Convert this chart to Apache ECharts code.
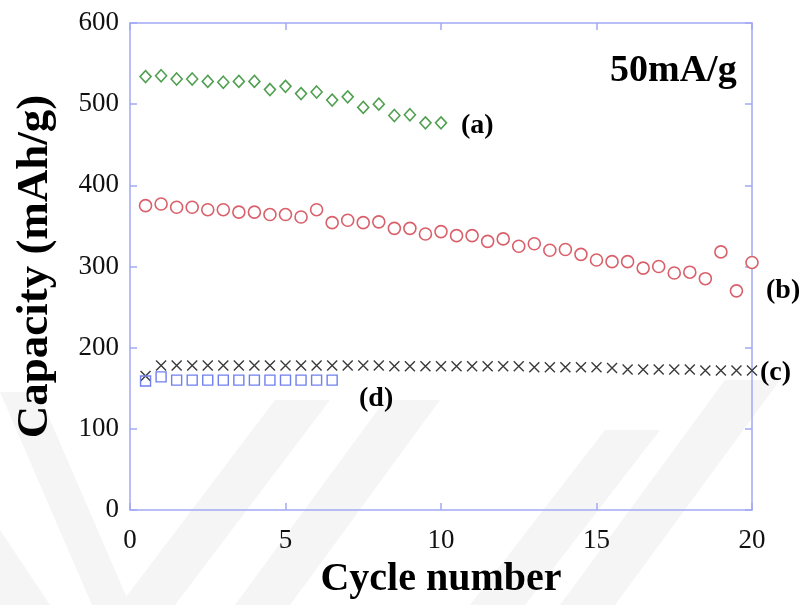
<!DOCTYPE html>
<html>
<head>
<meta charset="utf-8">
<script src="https://cdn.jsdelivr.net/npm/echarts@6/dist/echarts.min.js"></script>
<style>html,body{margin:0;padding:0;background:#fff;}#c{width:804px;height:605px;}</style>
</head>
<body>
<div id="c"></div>
<script>
const cyclesA = [0.5,1,1.5,2,2.5,3,3.5,4,4.5,5,5.5,6,6.5,7,7.5,8,8.5,9,9.5,10];
const capA = [534,535,531,531,528,527,528,528,518,522,513,515,505,509,496,500,486,487,477,477];

const cyclesB = [0.5,1,1.5,2,2.5,3,3.5,4,4.5,5,5.5,6,6.5,7,7.5,8,8.5,9,9.5,10,10.5,11,11.5,12,12.5,13,13.5,14,14.5,15,15.5,16,16.5,17,17.5,18,18.5,19,19.5,20];
const capB = [375,377,373,373,370,370,367,367,364,364,361,370,354,357,354,355,347,347,340,343,338,338,331,334,325,328,320,321,315,308,306,306,298,300,292,293,285,318,270,305];

const cyclesC = [0.5,1,1.5,2,2.5,3,3.5,4,4.5,5,5.5,6,6.5,7,7.5,8,8.5,9,9.5,10,10.5,11,11.5,12,12.5,13,13.5,14,14.5,15,15.5,16,16.5,17,17.5,18,18.5,19,19.5,20];
const capC = [165,178,178,178,178,178,178,178,178,178,178,178,178,178,178,178,177,177,177,177,177,177,177,177,177,176,176,176,176,176,175,173,173,173,173,173,172,172,172,172];

const cyclesD = [0.5,1,1.5,2,2.5,3,3.5,4,4.5,5,5.5,6,6.5];
const capD = [159,164,160,160,160,160,160,160,160,160,160,160,160];

const xTicks = [0,5,10,15,20];
const yTicks = [0,100,200,300,400,500,600];

const serif = '"Liberation Serif","Times New Roman",serif';
const axisColor = '#a3a9f5';

function pairs(xs, ys){ return xs.map((x,i)=>[x, ys[i]]); }

const chart = echarts.init(document.getElementById('c'), null, {renderer:'canvas'});

function band(pts){
  return {type:'polygon', z:-10, silent:true, shape:{points:pts}, style:{fill:'#f5f5f5'}};
}

const option = {
  backgroundColor:'#ffffff',
  animation:false,
  grid:{left:130, right:52, top:23, bottom:91},
  graphic:[
    band([[0,392],[38,392],[130,605],[92,605]]),
    band([[0,530],[0,605],[50,605]]),
    band([[120,605],[175,605],[330,400],[275,400]]),
    band([[235,605],[290,605],[440,400],[385,400]]),
    band([[470,605],[525,605],[660,430],[605,430]]),
    band([[560,605],[615,605],[780,380],[725,380]]),
    {type:'text', z:100, left:610, top:52, style:{text:'50mA/g', font:'bold 38px '+serif, fill:'#000'}},
    {type:'text', z:100, left:461, top:112, style:{text:'(a)', font:'bold 28px '+serif, fill:'#000'}},
    {type:'text', z:100, left:766, top:277, style:{text:'(b)', font:'bold 28px '+serif, fill:'#000'}},
    {type:'text', z:100, left:760, top:359, style:{text:'(c)', font:'bold 28px '+serif, fill:'#000'}},
    {type:'text', z:100, left:359, top:385, style:{text:'(d)', font:'bold 28px '+serif, fill:'#000'}}
  ],
  xAxis:[
    {type:'value', min:0, max:20, interval:5, position:'bottom',
     name:'Cycle number', nameLocation:'middle', nameGap:50,
     nameTextStyle:{fontFamily:serif, fontWeight:'bold', fontSize:40, color:'#000'},
     axisLine:{show:true, onZero:false, lineStyle:{color:axisColor, width:1.5}},
     axisTick:{show:true, inside:true, length:7, lineStyle:{color:axisColor, width:1.5}},
     axisLabel:{show:true, margin:17, fontFamily:serif, fontSize:27, color:'#111',
       formatter:v=>xTicks.includes(v)?String(v):''},
     splitLine:{show:false}},
    {type:'value', min:0, max:20, interval:5, position:'top',
     axisLine:{show:true, onZero:false, lineStyle:{color:axisColor, width:1.5}},
     axisTick:{show:true, inside:true, length:7, lineStyle:{color:axisColor, width:1.5}},
     axisLabel:{show:false}, splitLine:{show:false}}
  ],
  yAxis:[
    {type:'value', min:0, max:600, interval:100, position:'left',
     name:'Capacity (mAh/g)', nameLocation:'middle', nameGap:72, nameRotate:90,
     nameTextStyle:{fontFamily:serif, fontWeight:'bold', fontSize:45, color:'#000'},
     axisLine:{show:true, onZero:false, lineStyle:{color:axisColor, width:1.5}},
     axisTick:{show:true, inside:true, length:7, lineStyle:{color:axisColor, width:1.5}},
     axisLabel:{show:true, margin:11, fontFamily:serif, fontSize:27, color:'#111',
       formatter:v=>yTicks.includes(v)?String(v):''},
     splitLine:{show:false}},
    {type:'value', min:0, max:600, interval:100, position:'right',
     axisLine:{show:true, onZero:false, lineStyle:{color:axisColor, width:1.5}},
     axisTick:{show:true, inside:true, length:7, lineStyle:{color:axisColor, width:1.5}},
     axisLabel:{show:false}, splitLine:{show:false}}
  ],
  series:[
    {name:'(a)', type:'scatter', xAxisIndex:0, yAxisIndex:0, data:pairs(cyclesA, capA),
     symbol:'diamond', symbolSize:[11,12],
     itemStyle:{color:'#ffffff', borderColor:'#4f9f4f', borderWidth:1.6, opacity:1}},
    {name:'(b)', type:'scatter', xAxisIndex:0, yAxisIndex:0, data:pairs(cyclesB, capB),
     symbol:'circle', symbolSize:12,
     itemStyle:{color:'#ffffff', borderColor:'#d9606a', borderWidth:1.6, opacity:1}},
    {name:'(c)', type:'scatter', xAxisIndex:0, yAxisIndex:0, data:pairs(cyclesC, capC),
     symbol:'path://M0,0L10,10M10,0L0,10', symbolSize:10,
     itemStyle:{color:'rgba(0,0,0,0)', borderColor:'#3a3a3a', borderWidth:1.4, opacity:1}},
    {name:'(d)', type:'scatter', xAxisIndex:0, yAxisIndex:0, data:pairs(cyclesD, capD),
     symbol:'rect', symbolSize:10,
     itemStyle:{color:'rgba(255,255,255,0)', borderColor:'#6f80ee', borderWidth:1.4, opacity:1}}
  ]
};
chart.setOption(option);
</script>
</body>
</html>
